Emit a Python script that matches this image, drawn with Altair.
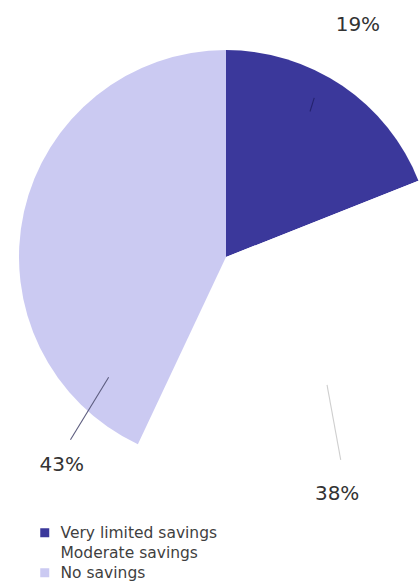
import altair as alt
import pandas as pd

# ---- data ----
categories = ["Very limited savings", "Moderate savings", "No savings"]
shares = [19, 38, 43]
share_labels = ["19%", "38%", "43%"]
colors = ["#3b389b", "#ffffff", "#cbcaf2"]

# ---- layout constants (pie centre / radius, annotation placement in polar terms) ----
CX, CY, R = 226, 257, 207
label_angle = [29.6, 154.9, 218.3]      # degrees clockwise from 12 o'clock
label_radius = [267, 262, 265]
line_a1 = [30.0, 141.7, 224.3]
line_r1 = [168, 163, 168]
line_a2 = [29.0, 150.5, 220.4]
line_r2 = [182, 233, 240]
line_colors = ["#25236f", "#cfcfcf", "#5c5c7e"]

df = pd.DataFrame({
    "category": categories,
    "share": shares,
    "label": share_labels,
    "order": [0, 1, 2],
})

ann = pd.DataFrame({
    "label": share_labels,
    "la": label_angle,
    "lr": label_radius,
    "a1": line_a1,
    "r1": line_r1,
    "a2": line_a2,
    "r2": line_r2,
    "lc": line_colors,
})

pie = alt.Chart(df).mark_arc(outerRadius=R, x=CX, y=CY, stroke=None).encode(
    theta=alt.Theta("share:Q", stack=True),
    order=alt.Order("order:Q"),
    color=alt.Color(
        "category:N",
        scale=alt.Scale(domain=categories, range=colors),
        sort=categories,
        legend=alt.Legend(
            title=None,
            orient="none",
            legendX=37,
            legendY=525,
            padding=0,
            symbolType="square",
            symbolSize=81,
            symbolStrokeWidth=0,
            symbolOpacity=1,
            labelFont="DejaVu Sans",
            labelFontSize=15.5,
            labelColor="#3f3f3f",
            labelOffset=8,
            rowPadding=3,
        ),
    ),
)

base_ann = alt.Chart(ann).transform_calculate(
    tx=f"{CX} + datum.lr * sin(datum.la * PI / 180)",
    ty=f"{CY} - datum.lr * cos(datum.la * PI / 180)",
    x1=f"{CX} + datum.r1 * sin(datum.a1 * PI / 180)",
    y1=f"{CY} - datum.r1 * cos(datum.a1 * PI / 180)",
    x2=f"{CX} + datum.r2 * sin(datum.a2 * PI / 180)",
    y2=f"{CY} - datum.r2 * cos(datum.a2 * PI / 180)",
)

lines = base_ann.mark_rule(strokeWidth=1.1).encode(
    x=alt.X("x1:Q", scale=None, axis=None),
    y=alt.Y("y1:Q", scale=None, axis=None),
    x2="x2:Q",
    y2="y2:Q",
    color=alt.Color("lc:N", scale=None, legend=None),
)

texts = base_ann.mark_text(
    font="DejaVu Sans", fontSize=20, color="#333333", align="center", baseline="middle"
).encode(
    x=alt.X("tx:Q", scale=None, axis=None),
    y=alt.Y("ty:Q", scale=None, axis=None),
    text="label:N",
)

chart = alt.layer(pie, lines, texts).properties(
    width=420,
    height=585,
    autosize=alt.AutoSizeParams(type="none"),
    padding=0,
    background="#ffffff",
).configure_view(stroke=None)

chart.save("out.html", embed_options={"renderer": "svg", "actions": False})
